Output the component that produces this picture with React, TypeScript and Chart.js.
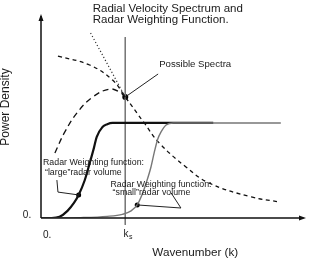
import React, { useEffect, useRef } from "react";
import { Chart, registerables } from "chart.js";

Chart.register(...registerables);

// ---- data (wavenumber units 0..100, power density units 0..100) ----
const K_S = 31.8;
const largeVolume: [number, number][] = [
  [0, 0], [4, 0], [7, 0.6], [10, 3.5], [12.5, 7.5], [14.2, 11.3], [16.5, 18.5],
  [18.4, 27], [20, 34.5], [21, 39.7], [23.2, 44.6], [25, 46], [27, 46.6], [65, 46.6],
];
const smallVolume: [number, number][] = [
  [0, 0], [15, 0.2], [25, 0.8], [30.7, 1.8], [34, 3.5], [36.3, 6.4], [38, 11],
  [39.7, 17.2], [41.5, 25], [42.7, 31.9], [44, 38.5], [45.3, 42.2], [47.2, 45.6],
  [50, 46.6], [90.5, 46.6],
];
const decayingSpectrum: [number, number][] = [
  [6.4, 79.4], [18.35, 75], [27, 67.6], [31.8, 59.3], [38.95, 46.6], [44.6, 36.8],
  [54.7, 25], [63.3, 17.2], [79.4, 10.3], [90.3, 7.8],
];
const peakedSpectrum: [number, number][] = [
  [5.24, 31.9], [9, 42.2], [13.86, 52], [19.5, 59.3], [25.8, 63.2], [29.6, 61.8], [31.8, 59.3],
];
const steepSpectrum: [number, number][] = [[18.7, 90.7], [31.8, 59.3]];
const ksLine: [number, number][] = [[K_S, 88.7], [K_S, -3.4]];
const markedPoints: [number, number][] = [[31.8, 59.3], [14.2, 11.3], [36.3, 6.4]];
const leaderSpectra: [number, number][] = [[31.8, 59.3], [44.2, 70.6]];
const leaderLarge: [number, number][] = [[6.0, 18.6], [6.4, 12.7], [14.2, 11.3]];
const leaderSmall: [number, number][] = [[36.3, 6.4], [52.8, 4.9], [49.1, 12.3]];
const titleLines = ["Radial Velocity Spectrum and", "Radar Weighting Function."];
const largeLabel = ["Radar Weighting function:", "\u201Clarge\u201Dradar volume"];
const smallLabel = ["Radar Weighting function:", "\u201Csmall\u201Dradar volume"];
const xTitle = "Wavenumber (k)";
const yTitle = "Power Density";
const zeroLabel = "0.";

const FONT = '"Liberation Sans", Arial, sans-serif';

const pts = (a: [number, number][]) => a.map(([x, y]) => ({ x, y }));

const drawPlugin = {
  id: "sketch",
  afterDatasetsDraw(chart: any) {
    const { ctx, scales } = chart;
    const X = (v: number) => scales.x.getPixelForValue(v);
    const Y = (v: number) => scales.y.getPixelForValue(v);
    ctx.save();
    // axes
    ctx.strokeStyle = "#111";
    ctx.fillStyle = "#111";
    ctx.lineWidth = 1.5;
    ctx.beginPath();
    ctx.moveTo(X(0), Y(0));
    ctx.lineTo(X(0), Y(99));
    ctx.moveTo(X(0), Y(0));
    ctx.lineTo(X(99), Y(0));
    ctx.stroke();
    // arrowheads
    ctx.beginPath();
    ctx.moveTo(X(0), Y(100));
    ctx.lineTo(X(0) - 2.5, Y(100) + 7);
    ctx.lineTo(X(0) + 2.5, Y(100) + 7);
    ctx.closePath();
    ctx.fill();
    ctx.beginPath();
    ctx.moveTo(X(100), Y(0));
    ctx.lineTo(X(100) - 7, Y(0) - 2.5);
    ctx.lineTo(X(100) - 7, Y(0) + 2.5);
    ctx.closePath();
    ctx.fill();

    // leaders
    ctx.lineWidth = 1;
    ctx.strokeStyle = "#222";
    [leaderSpectra, leaderLarge, leaderSmall].forEach((l) => {
      ctx.beginPath();
      l.forEach(([x, y], i) => (i ? ctx.lineTo(X(x), Y(y)) : ctx.moveTo(X(x), Y(y))));
      ctx.stroke();
    });

    // texts
    ctx.fillStyle = "#1a1a1a";
    ctx.textBaseline = "middle";
    ctx.textAlign = "left";
    ctx.font = `11.5px ${FONT}`;
    ctx.fillText(titleLines[0], X(19.5), Y(102.5));
    ctx.fillText(titleLines[1], X(19.5), Y(97.1));
    ctx.font = `9.6px ${FONT}`;
    ctx.fillText("Possible Spectra", X(44.6), Y(75.5));
    ctx.font = `8.8px ${FONT}`;
    ctx.fillText(largeLabel[0], X(0.75), Y(27));
    ctx.fillText(largeLabel[1], X(1.5), Y(22.5));
    ctx.fillText(smallLabel[0], X(26.2), Y(16.2));
    ctx.fillText(smallLabel[1], X(27), Y(12.3));
    ctx.font = `11.7px ${FONT}`;
    ctx.fillText(xTitle, X(42), Y(-17.2));
    ctx.font = `10px ${FONT}`;
    ctx.textAlign = "right";
    ctx.fillText(zeroLabel, X(-3.7), Y(1.5));
    ctx.textAlign = "left";
    ctx.fillText(zeroLabel, X(0.75), Y(-8.3));
    ctx.fillText("k", X(31.1), Y(-7.8));
    ctx.font = `7px ${FONT}`;
    ctx.fillText("s", X(31.1) + 5.5, Y(-7.8) + 3);
    // y title rotated, partly cut by the left edge
    ctx.save();
    ctx.translate(X(-12.2), Y(54.4));
    ctx.rotate(-Math.PI / 2);
    ctx.textAlign = "center";
    ctx.textBaseline = "alphabetic";
    ctx.font = `12px ${FONT}`;
    ctx.fillText(yTitle, 0, 0);
    ctx.restore();
    ctx.restore();
  },
};

export default function App() {
  const ref = useRef<HTMLCanvasElement | null>(null);
  useEffect(() => {
    document.body.style.margin = "0";
    const chart = new Chart(ref.current!, {
      type: "line",
      data: {
        datasets: [
          { data: pts(smallVolume), borderColor: "#777", borderWidth: 1.4, cubicInterpolationMode: "monotone" },
          { data: pts(largeVolume), borderColor: "#111", borderWidth: 2.2, cubicInterpolationMode: "monotone" },
          { data: pts(decayingSpectrum), borderColor: "#111", borderWidth: 1.3, borderDash: [4, 3.5], tension: 0.4 },
          { data: pts(peakedSpectrum), borderColor: "#111", borderWidth: 1.3, borderDash: [6, 4], tension: 0.4 },
          { data: pts(steepSpectrum), borderColor: "#333", borderWidth: 1.2, borderDash: [1.2, 2.2] },
          { data: pts(ksLine), borderColor: "#777", borderWidth: 1, clip: false as any },
          {
            data: pts(markedPoints), showLine: false, pointRadius: [3, 2.5, 2.5] as any,
            pointBackgroundColor: "#000", pointBorderWidth: 0, borderColor: "#000",
          },
        ] as any,
      },
      options: {
        responsive: false,
        animation: false,
        layout: { padding: { left: 41, top: 14, right: 2, bottom: 48 } },
        elements: { point: { radius: 0 }, line: { fill: false } },
        plugins: { legend: { display: false }, tooltip: { enabled: false } },
        scales: {
          x: { type: "linear", min: 0, max: 100, display: false },
          y: { type: "linear", min: 0, max: 100, display: false },
        },
      },
      plugins: [drawPlugin],
    });
    return () => chart.destroy();
  }, []);
  return (
    <div style={{ width: 310, height: 266, background: "#fff" }}>
      <canvas ref={ref} width={310} height={266} style={{ display: "block" }} />
    </div>
  );
}
